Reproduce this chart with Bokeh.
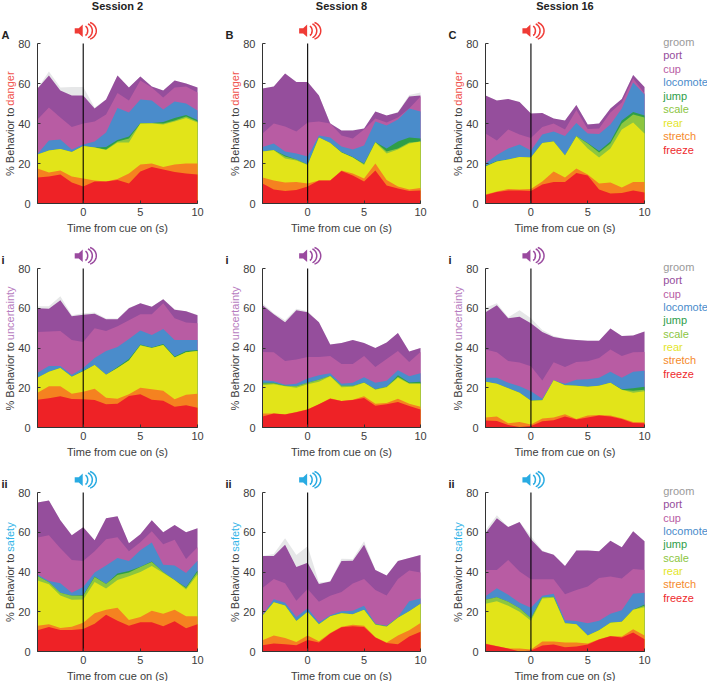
import math
from bokeh.plotting import figure
from bokeh.layouts import column, row
from bokeh.models import Label, FixedTicker
from bokeh.embed import file_html
from bokeh.resources import INLINE

time_s = list(range(-4, 11))
behaviors = ["freeze", "stretch", "rear", "scale", "jump", "locomote", "cup", "port", "groom"]
colors = ["#ee2226", "#f58220", "#e2e419", "#8cc63f", "#2e9e49", "#4a8ccb", "#b85ca3", "#954e9c", "#e6e7e8"]
legend_colors = ["#ee2a2e", "#f58a2c", "#e3e52a", "#8cc63f", "#2e9e49", "#4a8ccb", "#b85ca3", "#954e9c", "#9a9a9a"]
sessions = ["Session 2", "Session 8", "Session 16"]
tick_x = [0, 5, 10]
tick_y = [0, 20, 40, 60, 80]

# stacked upper boundaries (cumulative % behaviour)
A_freeze = [13, 13.5, 14.5, 10.5, 8.5, 11, 11, 11.7, 10, 16, 18.2, 17, 15.8, 15, 14.5]
A_stretch = [17.5, 15.5, 16.5, 13.5, 12.5, 11.5, 11, 12.2, 15, 19.5, 20, 18.2, 19.5, 20, 20]
A_rear = [24.5, 26.5, 27.3, 25.7, 28.8, 28, 26.8, 30.5, 30.5, 40, 40, 39.5, 41, 42.7, 40.5]
A_scale = [24.5, 26.5, 27.3, 25.7, 28.8, 28, 27, 31, 32.5, 40, 40.2, 40, 41.5, 43.5, 41]
A_jump = [24.5, 26.5, 27.3, 25.7, 28.8, 28, 28.3, 31.8, 33.5, 40.2, 40.3, 40.8, 42.7, 44.3, 41.8]
A_locomote = [24.8, 31.5, 32, 27, 29.5, 31, 35.5, 47.8, 45.5, 52, 51.5, 47, 51, 50, 46.5]
A_cup = [42, 48, 43, 38.3, 40, 41, 44.5, 55.2, 51.5, 61.5, 58, 53, 58, 58.5, 55.5]
A_port = [57.5, 64, 56.5, 54, 54, 47.5, 52, 64, 58, 63.5, 58.5, 56.5, 61.5, 60, 58]
A_groom = [57.5, 66, 58, 58.2, 58.2, 48, 52, 64, 58, 63.5, 58.5, 56.5, 61.5, 60, 58]

B_freeze = [10, 7, 6.3, 6.7, 8.5, 11.5, 11.5, 16.3, 14, 11, 16.5, 9, 7.5, 6.3, 6.5]
B_stretch = [13, 11.5, 10.5, 10.7, 10, 11.5, 11.5, 16.5, 15, 12.5, 20, 11.8, 8.5, 7, 7.7]
B_rear = [26, 26.6, 22.5, 21.5, 19.2, 33, 30.2, 25.5, 23, 19.2, 30.5, 25, 27, 30, 31]
B_scale = [26, 26.8, 23.5, 22, 19.5, 33, 30.2, 25.5, 23, 19.8, 30.7, 26, 27.5, 30.5, 31]
B_jump = [26, 26.8, 24, 22, 19.5, 33, 30.2, 25.7, 23.3, 20, 30.8, 27.5, 31, 33, 32.5]
B_locomote = [28.2, 30, 26, 25, 23.5, 34, 33, 28.5, 27, 29, 41, 39, 42, 47.5, 46]
B_cup = [35, 40, 38.5, 36, 40.5, 41, 40, 34, 32.5, 37, 42.5, 40.5, 43, 47.5, 53.5]
B_port = [57.5, 58.5, 65, 60.7, 60.7, 54, 40, 36.5, 36.5, 37.5, 46, 44, 45.5, 53.5, 54]
B_groom = [57.5, 58.5, 65, 60.7, 60.7, 54, 40.3, 36.5, 36.7, 37.5, 46, 44, 45.8, 54.3, 55.5]

C_freeze = [4.3, 5.7, 6.5, 6.5, 6.3, 9.5, 10.8, 10.8, 15.3, 14, 7, 5, 5.3, 6.5, 5.5]
C_stretch = [4.5, 6, 7.3, 7, 7.2, 11, 16, 13, 17.5, 14.5, 10, 10.5, 8, 10.7, 10.8]
C_rear = [18.5, 21, 22, 23.2, 23, 30.3, 31, 24, 33.5, 27.5, 23, 27.5, 37, 40.5, 35]
C_scale = [18.5, 21, 22, 23.2, 23, 30.3, 31, 24, 33.7, 30, 25.5, 30, 40, 44.5, 43]
C_jump = [18.8, 21.2, 22, 23.2, 23, 30.3, 31, 24, 33.7, 30.3, 26.2, 31, 41.5, 45.7, 44]
C_locomote = [20, 24.3, 27.5, 29.5, 26.5, 34.5, 36, 33.7, 40.3, 35, 34.7, 39.5, 47.5, 60.5, 54.5]
C_cup = [35, 31.5, 37, 34.5, 32.7, 38.3, 40, 37, 46.7, 37.3, 37.5, 45.5, 50.5, 62.5, 55]
C_port = [54, 51.5, 52.3, 50.7, 45, 45.3, 42.5, 41.5, 49.3, 39.5, 40, 47.5, 52.3, 64.3, 58.3]
C_groom = [54, 51.5, 52.3, 50.7, 45, 45.3, 42.5, 41.5, 49.3, 39.5, 40, 47.5, 52.3, 64.3, 58.3]

D_freeze = [14, 14.7, 15.7, 14.3, 14.2, 13.8, 11.7, 12, 15.8, 16.7, 14, 13.5, 10.5, 11.2, 10]
D_stretch = [17.5, 20.7, 20.8, 17, 18, 19.5, 15, 14.5, 16.7, 20, 19.2, 18.5, 14.2, 16.5, 17]
D_rear = [25, 28, 30, 25.5, 28.3, 31.5, 26.5, 30, 33.7, 41.2, 40, 41.5, 35.2, 37.8, 38.5]
D_scale = [25, 28, 30, 25.5, 28.3, 31.5, 26.5, 30, 33.7, 41.5, 40, 41.5, 35.2, 37.8, 38.5]
D_jump = [25, 28, 30, 25.5, 28.5, 31.5, 26.5, 30.5, 34.5, 41.8, 40.3, 42, 35.7, 38.5, 39]
D_locomote = [27.5, 31, 31, 26.5, 30, 35, 38.5, 40.5, 44.5, 48.8, 46.5, 49.5, 44, 44, 44]
D_cup = [48, 48.3, 48.5, 44, 43, 50, 48.5, 51, 54, 57, 57, 62.5, 55, 52.8, 52.5]
D_port = [60, 59.7, 64, 56, 56.7, 57.2, 54.5, 54.5, 60, 62.5, 60.7, 64.5, 59.3, 58.5, 56.5]
D_groom = [61, 61, 66, 56.5, 57.5, 57.8, 54.8, 54.8, 60.2, 62.5, 60.7, 64.7, 59.5, 58.5, 56.7]

E_freeze = [5.5, 7, 6.5, 7.7, 9, 11.7, 14.5, 13.3, 13.8, 14.8, 11, 11.7, 12.8, 10.8, 9]
E_stretch = [7, 7, 6.7, 7.8, 9.2, 11.7, 14.7, 13.3, 14, 15.7, 12, 12.3, 14.5, 12, 10.5]
E_rear = [21.3, 21.8, 20.7, 20, 21.8, 23, 25.8, 20.3, 20.5, 22.5, 19, 20.3, 25, 22, 22]
E_scale = [22.2, 22.3, 21, 20.7, 22.5, 24, 26, 21, 21, 22.7, 19.2, 20.5, 25.5, 22.3, 22.3]
E_jump = [22.5, 22.5, 21, 20.7, 22.5, 24, 26, 21, 21, 22.7, 19.2, 20.5, 26.3, 22.7, 23]
E_locomote = [23.8, 23.3, 21.5, 22, 24.7, 26.3, 27.3, 22, 22.5, 25.3, 22.5, 23.5, 28.8, 25.8, 27.3]
E_cup = [38, 37.8, 33.5, 34.2, 35.5, 35.5, 36, 32, 32, 36, 30.5, 34.5, 38.5, 33, 38]
E_port = [61.5, 57, 53, 59, 58, 53, 41.7, 42.5, 44, 42.5, 40, 42.8, 47.5, 38.3, 40]
E_groom = [62.5, 57.5, 54, 59.7, 58.5, 53, 41.7, 42.5, 44, 42.5, 40, 42.8, 47.5, 38.3, 40]

F_freeze = [3.5, 3.3, 1.3, 0.3, 0.8, 3.2, 3.7, 5.5, 4, 5, 6, 5.5, 4.3, 2.3, 2.2]
F_stretch = [5, 5.5, 2.2, 2.8, 1.5, 4.5, 5, 6.7, 4.3, 6, 6.3, 6, 4.7, 2.8, 2.7]
F_rear = [23, 22, 19.8, 17.5, 13.5, 13.7, 23.8, 21.2, 21, 20.5, 21, 22.5, 19, 17.5, 18.2]
F_scale = [23, 22, 19.8, 17.5, 13.5, 13.7, 23.8, 21.2, 21, 20.5, 21, 22.5, 19, 18.5, 19]
F_jump = [23, 22, 19.8, 17.5, 13.5, 13.7, 23.8, 21.2, 21, 20.5, 21, 22.5, 19.3, 19.7, 20.5]
F_locomote = [25, 25, 22.5, 20.7, 18.3, 14.5, 23.8, 22, 24, 24.3, 25, 28, 25, 28, 28.5]
F_cup = [39.3, 37.8, 33.5, 32.7, 30.8, 23.7, 32.8, 30.5, 33, 33.3, 35, 39.3, 36, 37.8, 38]
F_port = [58, 61.5, 55, 55.7, 52.5, 48, 45.5, 44.5, 44, 43.7, 43.7, 49.8, 46, 46.3, 48.3]
F_groom = [60.3, 62.5, 55.5, 59, 55, 49, 46, 44.8, 44, 43.7, 43.7, 49.8, 46, 46.3, 48.3]

G_freeze = [10.7, 12.3, 10.8, 10.8, 11.3, 14, 18.5, 15.5, 13, 14.7, 14.7, 12.7, 15.2, 11.7, 13.7]
G_stretch = [13, 13.7, 11.8, 12.5, 14.5, 19.2, 21, 22, 15.8, 17.3, 20.5, 19, 21, 17.7, 17.7]
G_rear = [35.7, 33.8, 28.2, 26, 26.2, 35, 31.7, 36, 37.8, 40, 43, 39.5, 35.8, 31.2, 38.8]
G_scale = [38, 34.8, 29.5, 28, 28, 37.5, 34, 38.5, 39.8, 42.5, 45, 40, 36, 32, 40]
G_jump = [38, 34.8, 29.5, 28, 28.3, 37.7, 34, 39.3, 40.5, 42.7, 45.3, 40, 36, 32.3, 40.7]
G_locomote = [38.8, 35.5, 34.3, 29.5, 32.5, 39.7, 43.3, 47, 45.5, 51, 54.8, 43.7, 43.3, 39.5, 45.7]
G_cup = [57.3, 58.5, 52, 46, 45.5, 50.5, 56.5, 57.5, 50.5, 55, 60.5, 54, 56.2, 46.5, 52.5]
G_port = [75, 76, 66, 58.5, 62.5, 56, 67, 68, 54.5, 59, 66, 60, 63.7, 60, 62]
G_groom = [75, 76, 66, 58.5, 62.5, 56, 67, 68, 54.5, 59, 66, 60, 63.7, 60, 62]

H_freeze = [3.2, 4, 3.7, 3.2, 5.8, 4.5, 9, 12.2, 12.7, 12.3, 7, 4.3, 3.7, 7.5, 10]
H_stretch = [5.7, 8, 6.8, 4.8, 8, 5.2, 9.3, 12.5, 13.5, 13, 7.2, 4.5, 8, 10.7, 14.3]
H_rear = [18, 24.8, 23.2, 15.3, 20, 13.7, 17.7, 19.2, 18.7, 21, 13.5, 12.5, 17, 20.3, 24]
H_scale = [18, 24.8, 23.2, 15.3, 20, 13.7, 17.7, 19.2, 18.7, 21, 13.7, 12.7, 17, 20.3, 24]
H_jump = [18, 24.8, 23.2, 15.3, 20, 13.7, 17.7, 19.2, 18.7, 21, 13.7, 12.7, 17, 20.3, 24]
H_locomote = [18.5, 26.3, 24.5, 17.3, 21.7, 14.7, 18.3, 20.3, 20.5, 23, 14, 13, 17.3, 25.3, 26.7]
H_cup = [32, 36.5, 34.3, 25.5, 31.5, 25, 28, 30, 34.2, 36.5, 31, 28.2, 36.5, 40.7, 39.7]
H_port = [48, 48, 53.7, 42.5, 44.7, 34, 35.2, 45.5, 45.7, 53.7, 41, 38.3, 45.5, 47, 48.5]
H_groom = [48, 49, 57, 48.5, 53, 34.7, 35.2, 46.7, 46.5, 55.5, 41, 38.3, 45.5, 47, 48.5]

I_freeze = [3.8, 2.6, 1.5, 0, 0.5, 3, 3.5, 2.2, 2.5, 3.5, 6, 7.7, 7, 9.5, 6.2]
I_stretch = [4, 2.8, 1.5, 1.5, 1, 5, 5, 4.5, 4.5, 4, 6.2, 7.8, 7.5, 11.2, 8]
I_rear = [24, 25.3, 23, 20, 15.5, 26.7, 27, 14.2, 13.7, 8, 10.7, 14.5, 15, 21, 22.3]
I_scale = [26, 27.3, 25, 21.7, 16.7, 27.3, 27.5, 14.2, 13.7, 8, 10.7, 14.5, 15, 21, 23]
I_jump = [26, 27.3, 25, 21.7, 16.8, 27.3, 27.5, 14.2, 13.7, 8, 10.7, 14.5, 15, 21, 23.7]
I_locomote = [27.8, 31.8, 28.5, 24.5, 22, 28, 29, 15.7, 15.3, 14.2, 15.5, 19, 20.7, 29, 29.5]
I_cup = [41, 41, 46, 40.3, 36.3, 36.3, 36.3, 28.8, 31, 32.7, 37, 37.7, 36.7, 41.5, 41]
I_port = [59.5, 67, 62.7, 65.2, 56.5, 50.5, 48.7, 43, 50.8, 50.8, 50.5, 55.7, 52.5, 60.5, 55.5]
I_groom = [61, 68.5, 62.7, 65.2, 58, 50.8, 48.7, 43, 50.8, 50.8, 50.5, 55.7, 52.5, 60.5, 55.5]

panels = [
    [[A_freeze, A_stretch, A_rear, A_scale, A_jump, A_locomote, A_cup, A_port, A_groom],
     [B_freeze, B_stretch, B_rear, B_scale, B_jump, B_locomote, B_cup, B_port, B_groom],
     [C_freeze, C_stretch, C_rear, C_scale, C_jump, C_locomote, C_cup, C_port, C_groom]],
    [[D_freeze, D_stretch, D_rear, D_scale, D_jump, D_locomote, D_cup, D_port, D_groom],
     [E_freeze, E_stretch, E_rear, E_scale, E_jump, E_locomote, E_cup, E_port, E_groom],
     [F_freeze, F_stretch, F_rear, F_scale, F_jump, F_locomote, F_cup, F_port, F_groom]],
    [[G_freeze, G_stretch, G_rear, G_scale, G_jump, G_locomote, G_cup, G_port, G_groom],
     [H_freeze, H_stretch, H_rear, H_scale, H_jump, H_locomote, H_cup, H_port, H_groom],
     [I_freeze, I_stretch, I_rear, I_scale, I_jump, I_locomote, I_cup, I_port, I_groom]],
]

FONT = "Liberation Sans"
TXT = "#3c3c3c"
row_cfg = [
    dict(top=20, frame=183, bottom=34, scale=2.0, word="danger", word_color="#f0524c",
         cue="#ef3b36", tags=["A", "B", "C"], start=27.5, word_gap=70.3),
    dict(top=6, frame=184, bottom=34, scale=159 / 80, word="uncertainty", word_color="#b77cc0",
         cue="#9a4a9f", tags=["i", "i", "i"], start=17, word_gap=70.3),
    dict(top=6, frame=184, bottom=30, scale=159 / 80, word="safety", word_color="#35b5e8",
         cue="#29abe2", tags=["ii", "ii", "ii"], start=29.5, word_gap=70.3),
]
col_cfg = [
    dict(left=37, frame=160, right=27),
    dict(left=38, frame=158, right=27),
    dict(left=38, frame=159, right=63),
]


def add_label(p, text, x, y, xo=0, yo=0, color=TXT, angle=0, align="left", base="middle", bold=False):
    p.add_layout(Label(x=x, y=y, x_offset=xo, y_offset=yo, text=text, text_color=color, angle=angle,
                       text_align=align, text_baseline=base, text_font=FONT, text_font_size="11px",
                       text_font_style="bold" if bold else "normal"))


def speaker(p, color, px_x, px_y):
    """Decorative cue icon, sized in pixels around the cue line above the axis."""
    cy = 80 + 12.7 / px_y
    def X(px):
        return px / px_x
    def Y(py):
        return cy + py / px_y
    body_x = [-8.5, -4.5, -0.5, -0.5, -4.5, -8.5]
    body_y = [-2.6, -2.6, -6.2, 6.2, 2.6, 2.6]
    p.patch([X(v) for v in body_x], [Y(v) for v in body_y], fill_color=color, line_color=None)
    for xc, rx, ry in [(1.0, 3.5, 5.0), (2.5, 6.6, 7.3), (3.6, 9.5, 8.8)]:
        ts = [math.radians(a) for a in range(-70, 71, 7)]
        p.line([X(xc + rx * math.cos(t)) for t in ts], [Y(ry * math.sin(t)) for t in ts],
               line_color=color, line_width=1.5)


rows = []
for ri, rc in enumerate(row_cfg):
    figs = []
    for ci, cc in enumerate(col_cfg):
        sx = cc["frame"] / 14          # pixels per second
        sy = rc["scale"]               # pixels per percent
        # the frame fills the whole canvas; axes are pinned inside it, so every text is drawn within it
        p = figure(width=cc["left"] + cc["frame"] + cc["right"],
                   height=rc["top"] + rc["frame"] + rc["bottom"],
                   x_range=(-4 - cc["left"] / sx, 10 + cc["right"] / sx),
                   y_range=(-rc["bottom"] / sy, (rc["frame"] + rc["top"]) / sy),
                   output_backend="svg", toolbar_location=None, min_border=0,
                   outline_line_color=None, background_fill_color=None, border_fill_color=None)
        p.grid.visible = False
        series = panels[ri][ci]
        zero = [0] * len(time_s)
        # painted top layer first, each from the baseline, so no seams show between layers
        for si in range(len(series) - 1, -1, -1):
            p.varea(time_s, zero, series[si], fill_color=colors[si], fill_alpha=1)
        p.line([0, 0], [0, 80], line_color="#000000", line_width=1.1)
        speaker(p, rc["cue"], sx, sy)

        for ax, ticks in ((p.xaxis, tick_x), (p.yaxis, tick_y)):
            ax.ticker = FixedTicker(ticks=ticks)
            ax.minor_tick_line_color = None
            ax.major_tick_in = 3
            ax.major_tick_out = 0
            ax.axis_line_color = "#333333"
            ax.major_tick_line_color = "#333333"
            ax.major_label_text_color = TXT
            ax.major_label_text_font = FONT
            ax.major_label_text_font_size = "11px"
        p.xaxis.fixed_location = 0
        p.yaxis.fixed_location = -4
        p.xaxis.bounds = (-4, 10)
        p.yaxis.bounds = (0, 80)
        p.xaxis.major_label_standoff = 4
        p.yaxis.major_label_standoff = 7

        add_label(p, "Time from cue on (s)", 3, 0, yo=-24, align="center")
        add_label(p, "% Behavior to ", -4, 0, xo=-27.5, yo=rc["start"], angle=math.pi / 2, base="alphabetic")
        add_label(p, rc["word"], -4, 0, xo=-27.5, yo=rc["start"] + rc["word_gap"],
                  color=rc["word_color"], angle=math.pi / 2, base="alphabetic")
        add_label(p, rc["tags"][ci], -4, 80, xo=-cc["left"] + 1, yo=8.5, color="#222222", bold=True)
        if ri == 0:
            add_label(p, sessions[ci], 3, 80, yo=37.5, align="center", color="#222222", bold=True)
        if ci == 2:
            for k, name in enumerate(behaviors[::-1]):
                add_label(p, name, 10, 80 - k * 6.72, xo=18.7, yo=1.5, color=legend_colors[::-1][k])
        figs.append(p)
    rows.append(row(*figs, spacing=0))

page = column(*rows, spacing=0)
open("out.html", "w").write(file_html(page, INLINE))
